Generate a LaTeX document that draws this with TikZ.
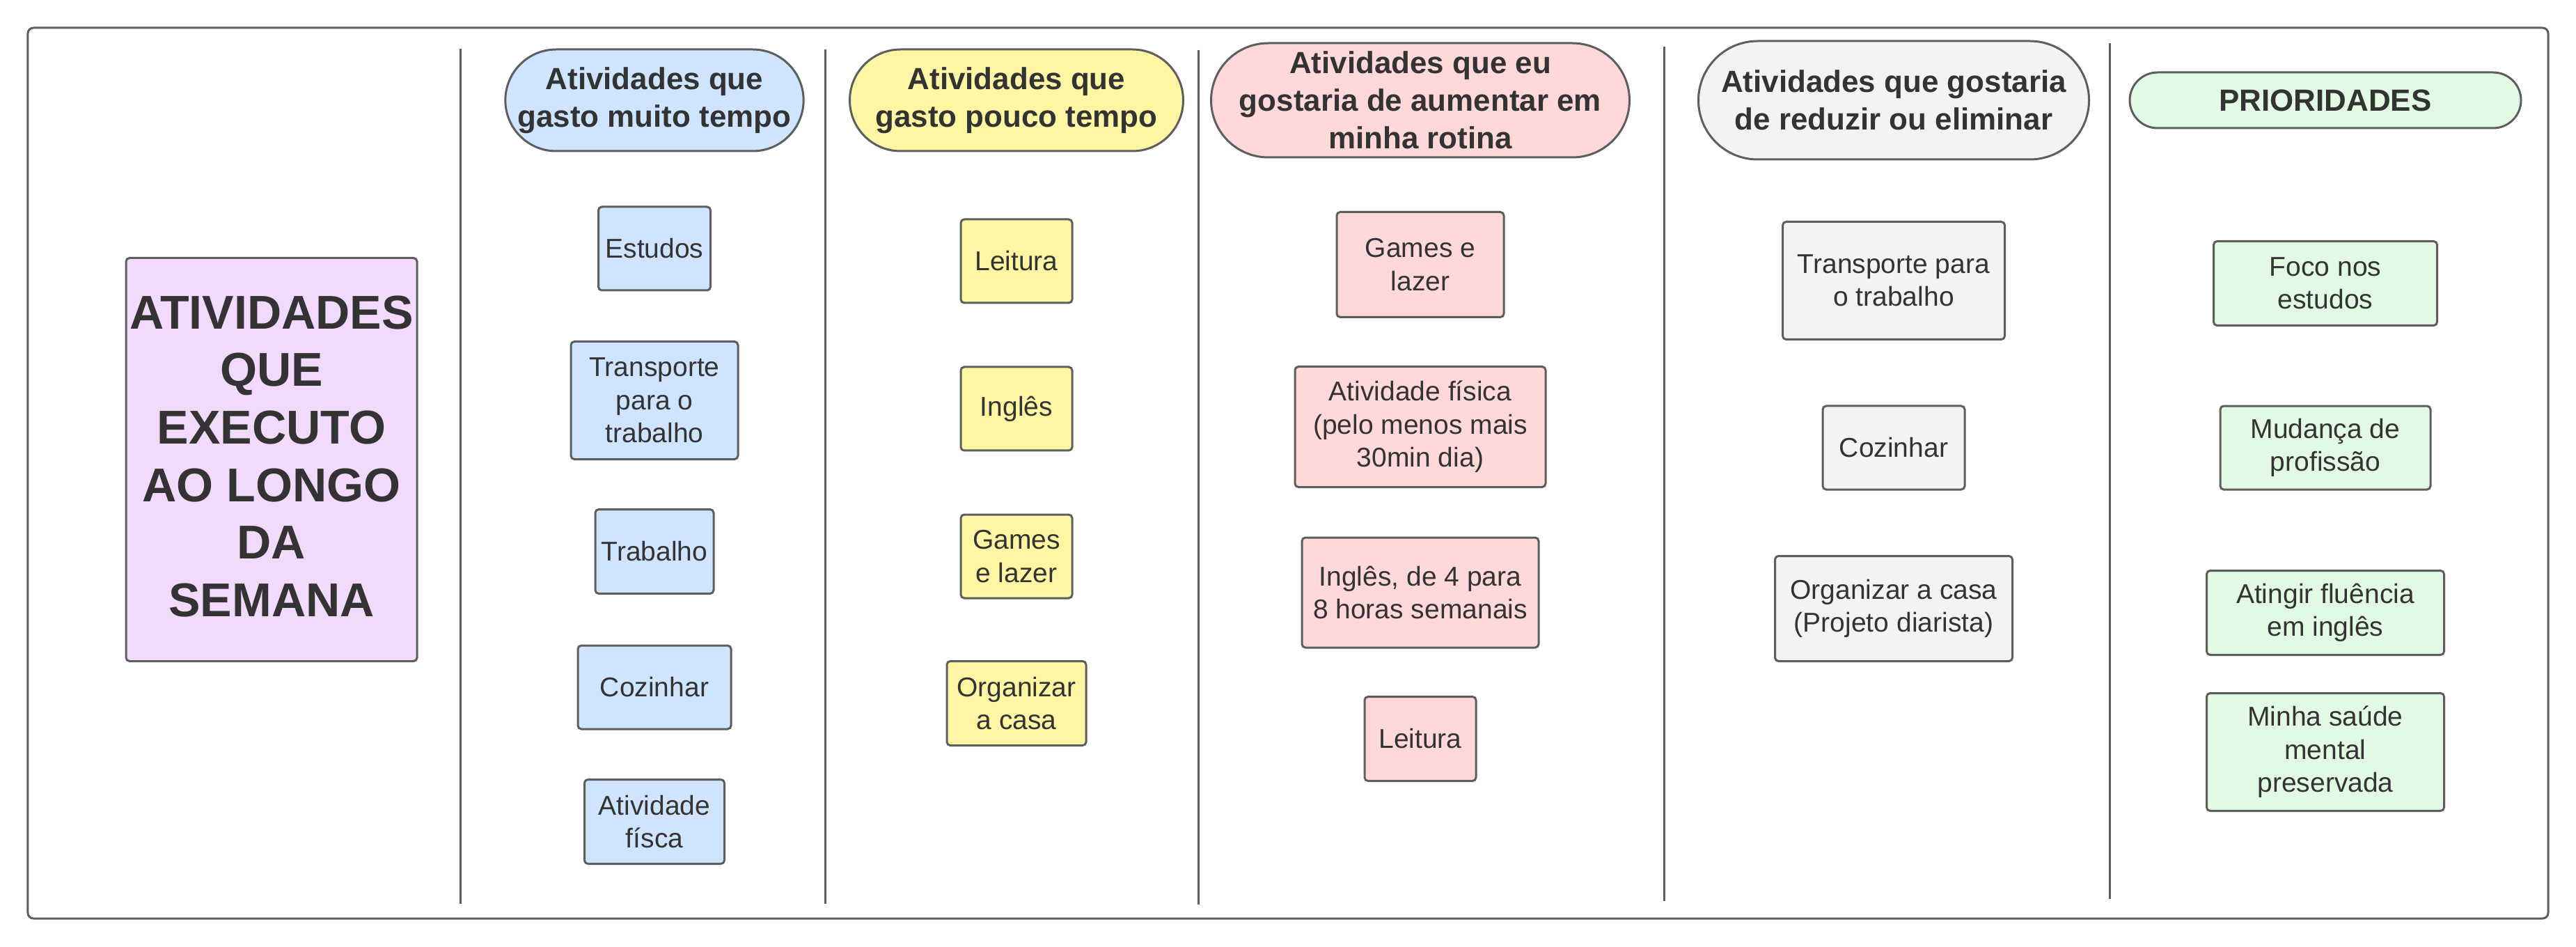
\documentclass[tikz,border=0pt]{standalone}
\usepackage{fontspec}
\setmainfont{Liberation Sans}
\usetikzlibrary{positioning,shapes.misc}
\definecolor{linec}{HTML}{5E5E5E}
\definecolor{textc}{HTML}{333333}
\definecolor{bluef}{HTML}{CFE4FF}
\definecolor{yellowf}{HTML}{FFF6A3}
\definecolor{pinkf}{HTML}{FFD8DA}
\definecolor{greyf}{HTML}{F2F3F5}
\definecolor{greenf}{HTML}{E2FAE3}
\definecolor{purplef}{HTML}{F2DAFD}
\begin{document}
\begin{tikzpicture}[
  card/.style={draw=linec, line width=0.03cm, rounded corners=0.05cm, align=center, inner sep=0pt, text=textc, font=\fontsize{11.1}{13.5}\selectfont},
  head/.style={draw=linec, line width=0.03cm, rounded rectangle, align=center, inner sep=0pt, text=textc, font=\bfseries\fontsize{12.5}{15.4}\selectfont},
  lane/.style={draw=linec, line width=0.03cm}
]
\useasboundingbox (0,0) rectangle (37,-13.6);
\draw[lane, rounded corners=0.08cm] (0.40,-0.40) rectangle (36.60,-13.19);

% column separators
\draw[lane] (6.61,-0.70) -- (6.61,-12.98);
\draw[lane] (11.85,-0.71) -- (11.85,-12.98);
\draw[lane] (17.21,-0.72) -- (17.21,-12.99);
\draw[lane] (23.90,-0.67) -- (23.90,-12.94);
\draw[lane] (30.30,-0.62) -- (30.30,-12.91);

\node (semana) [card, fill=purplef, minimum width=4.18cm, minimum height=5.79cm, font=\bfseries\fontsize{19.4}{23.5}\selectfont] at (3.90,-6.60) {ATIVIDADES\\QUE\\EXECUTO\\AO LONGO\\DA\\SEMANA\rule[-0.1cm]{0pt}{0pt}};

% headers
\node (muito) [head, fill=bluef, minimum width=4.18cm, minimum height=1.46cm] at (9.40,-1.44) {Atividades que\\gasto muito tempo};
\node (pouco) [head, fill=yellowf, right of=muito, node distance=5.20cm, minimum width=4.79cm, minimum height=1.46cm] {Atividades que\\gasto pouco tempo};
\node (aumentar) [head, fill=pinkf, right of=pouco, node distance=5.80cm, minimum width=6.01cm, minimum height=1.64cm] {Atividades que eu\\gostaria de aumentar em\\minha rotina};
\node (reduzir) [head, fill=greyf, right of=aumentar, node distance=6.80cm, minimum width=5.61cm, minimum height=1.70cm] {Atividades que gostaria\\de reduzir ou eliminar};
\node (prior) [head, fill=greenf, right of=reduzir, node distance=6.20cm, minimum width=5.62cm, minimum height=0.80cm] {PRIORIDADES};

% gasto muito tempo
\node (estudos) [card, fill=bluef, below of=muito, node distance=2.13cm, minimum width=1.61cm, minimum height=1.20cm] {Estudos};
\node (transp) [card, fill=bluef, below of=estudos, node distance=2.18cm, minimum width=2.40cm, minimum height=1.69cm] {Transporte\\para o\\trabalho};
\node (trab) [card, fill=bluef, below of=transp, node distance=2.17cm, minimum width=1.70cm, minimum height=1.21cm] {Trabalho};
\node (cozinha) [card, fill=bluef, below of=trab, node distance=1.95cm, minimum width=2.20cm, minimum height=1.20cm] {Cozinhar};
\node (fisica) [card, fill=bluef, below of=cozinha, node distance=1.93cm, minimum width=2.01cm, minimum height=1.21cm] {Atividade\\físca};

% gasto pouco tempo
\node (leitura) [card, fill=yellowf, below of=pouco, node distance=2.31cm, minimum width=1.60cm, minimum height=1.20cm] {Leitura};
\node (ingles) [card, fill=yellowf, below of=leitura, node distance=2.12cm, minimum width=1.60cm, minimum height=1.20cm] {Inglês};
\node (games) [card, fill=yellowf, below of=ingles, node distance=2.12cm, minimum width=1.60cm, minimum height=1.20cm] {Games\\e lazer};
\node (casa) [card, fill=yellowf, below of=games, node distance=2.11cm, minimum width=2.00cm, minimum height=1.21cm] {Organizar\\a casa};

% aumentar
\node (games2) [card, fill=pinkf, below of=aumentar, node distance=2.36cm, minimum width=2.40cm, minimum height=1.51cm] {Games e\\lazer};
\node (fisica2) [card, fill=pinkf, below of=games2, node distance=2.33cm, minimum width=3.60cm, minimum height=1.73cm] {Atividade física\\(pelo menos mais\\30min dia)};
\node (ingles2) [card, fill=pinkf, below of=fisica2, node distance=2.38cm, minimum width=3.40cm, minimum height=1.58cm] {Inglês, de 4 para\\8 horas semanais};
\node (leitura2) [card, fill=pinkf, below of=ingles2, node distance=2.10cm, minimum width=1.60cm, minimum height=1.21cm] {Leitura};

% reduzir
\node (transp3) [card, fill=greyf, below of=reduzir, node distance=2.59cm, minimum width=3.19cm, minimum height=1.69cm] {Transporte para\\o trabalho};
\node (cozinha3) [card, fill=greyf, below of=transp3, node distance=2.40cm, minimum width=2.04cm, minimum height=1.20cm] {Cozinhar};
\node (casa3) [card, fill=greyf, below of=cozinha3, node distance=2.31cm, minimum width=3.41cm, minimum height=1.51cm] {Organizar a casa\\(Projeto diarista)};

% prioridades
\node (foco) [card, fill=greenf, below of=prior, node distance=2.63cm, minimum width=3.21cm, minimum height=1.21cm] {Foco nos\\estudos};
\node (mudanca) [card, fill=greenf, below of=foco, node distance=2.36cm, minimum width=3.02cm, minimum height=1.20cm] {Mudança de\\profissão};
\node (fluencia) [card, fill=greenf, below of=mudanca, node distance=2.37cm, minimum width=3.41cm, minimum height=1.21cm] {Atingir fluência\\em inglês};
\node (saude) [card, fill=greenf, below of=fluencia, node distance=2.00cm, minimum width=3.41cm, minimum height=1.69cm] {Minha saúde\\mental\\preservada};
\end{tikzpicture}
\end{document}
